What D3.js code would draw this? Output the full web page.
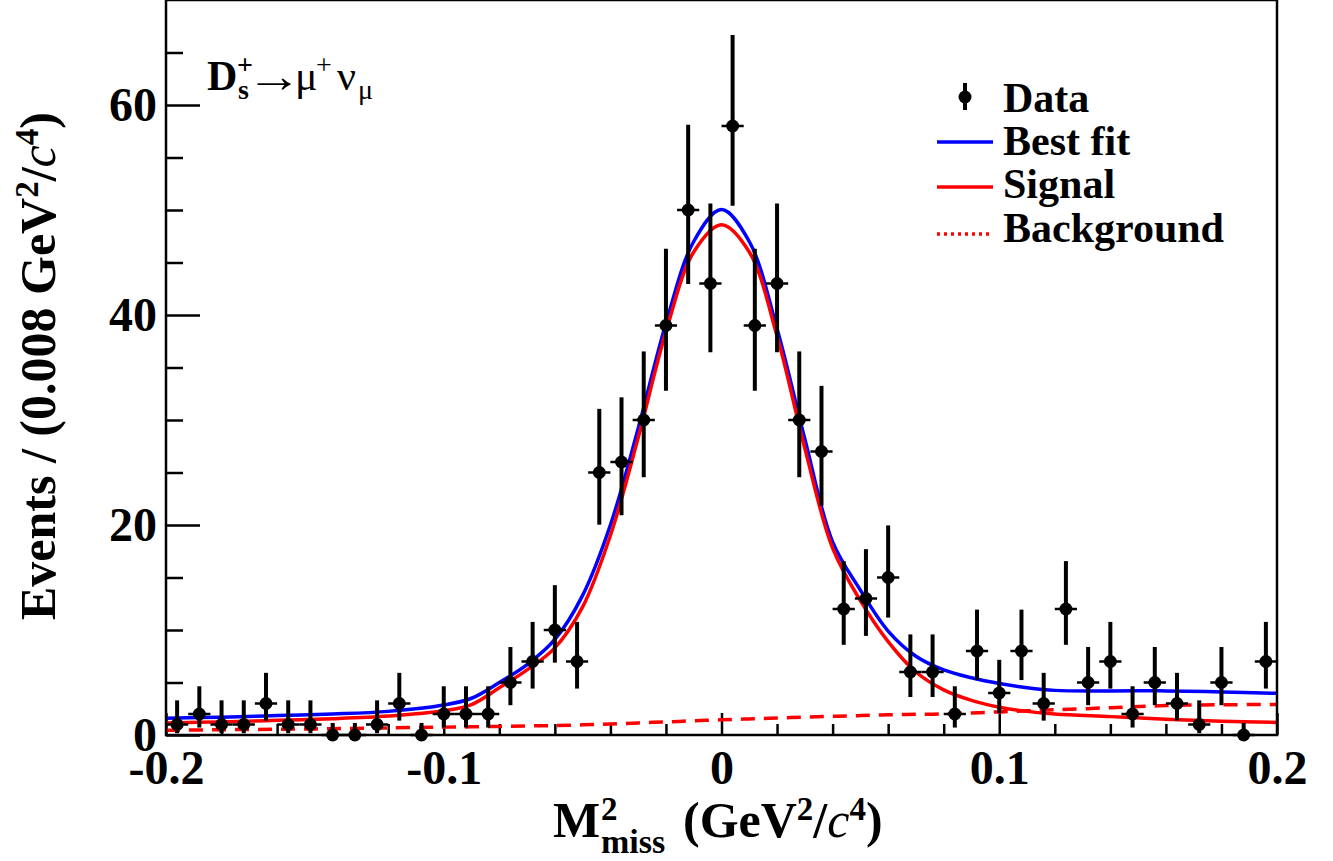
<!DOCTYPE html>
<html>
<head>
<meta charset="utf-8">
<script src="https://cdn.jsdelivr.net/npm/d3@7"></script>
<style>
  html, body { margin: 0; padding: 0; background: #fff; }
  svg { display: block; }
  text { font-family: "Liberation Serif", "Times New Roman", serif; }
</style>
</head>
<body>
<svg id="chart" width="1333" height="861"></svg>
<script>
// ---------------- data ----------------
const histRange = [-0.2, 0.2];
const binWidth = 0.008;
const counts = [1,2,1,1,3,1,1,0,0,1, 3,0,2,2,2,5,7,10,7,25, 26,30,39,50,43,58,39,43,30,27, 12,13,15,6,6,2,8,4,8,3, 12,5,7,2,5,3,1,5,0,7];
const errLow = [0.83,1.29,0.83,0.83,1.63,0.83,0.83,0,0,0.83,
  1.63,0,1.29,1.29,1.29,2.16,2.58,3.11,2.58,4.97,
  5.07,5.45,6.22,7.05,6.54,7.59,6.22,6.54,5.45,5.16,
  3.41,3.56,3.82,2.38,2.38,1.29,2.77,1.91,2.77,1.63,
  3.41,2.16,2.58,1.29,2.16,1.63,0.83,2.16,0,2.58];
const errHigh = [2.30,2.64,2.30,2.30,2.92,2.30,2.30,1.15,1.15,2.30,
  2.92,1.15,2.64,2.64,2.64,3.38,3.77,4.27,3.77,6.06,
  6.16,6.53,7.30,8.12,7.61,8.66,7.30,7.61,6.53,6.25,
  4.56,4.70,4.96,3.58,3.58,2.64,3.94,3.16,3.94,2.92,
  4.56,3.38,3.77,2.64,3.38,2.92,2.30,3.38,1.15,3.77];

const fitX = [-0.2,-0.18,-0.16,-0.14,-0.12,-0.10,-0.09,-0.08,-0.07,-0.06,-0.05,-0.04,-0.03,-0.02,-0.01,0,
  0.01,0.02,0.03,0.04,0.05,0.06,0.07,0.08,0.09,0.10,0.11,0.12,0.14,0.16,0.18,0.20];
const bestFit = [1.6,1.7,1.85,2.0,2.25,2.85,3.5,5.0,6.7,9.1,13.3,20.0,29.2,39.2,47.0,50.05,
  47.0,38.7,28.2,18.4,13.8,9.9,7.5,6.2,5.45,4.9,4.5,4.25,4.2,4.2,4.1,3.97];
const signal = [1.15,1.25,1.4,1.55,1.8,2.3,2.9,4.5,6.2,8.3,12.2,19.0,28.3,38.4,46.0,48.6,
  46.0,38.0,27.3,17.8,12.8,8.9,6.0,4.3,3.3,2.65,2.25,2.0,1.75,1.5,1.3,1.2];
const background = [0.45,0.5,0.55,0.6,0.68,0.75,0.78,0.82,0.86,0.9,0.97,1.05,1.15,1.25,1.35,1.45,
  1.53,1.62,1.7,1.78,1.85,1.92,1.97,2.0,2.1,2.2,2.3,2.4,2.6,2.8,2.88,2.9];

const xMajorTicks = [-0.2,-0.1,0,0.1,0.2];
const xMinorTicks = [-0.18,-0.16,-0.14,-0.12,-0.08,-0.06,-0.04,-0.02,0.02,0.04,0.06,0.08,0.12,0.14,0.16,0.18];
const xTickLabels = ["-0.2","-0.1","0","0.1","0.2"];
const yMajorTicks = [0,20,40,60];
const yMinorTicks = [5,10,15,25,30,35,45,50,55,65];
const yTickLabels = ["0","20","40","60"];
const legendLabels = ["Data","Best fit","Signal","Background"];

// ---------------- drawing ----------------
const svg = d3.select("#chart");
svg.append("rect").attr("width",1333).attr("height",861).attr("fill","#fff");

const x = d3.scaleLinear().domain([-0.2,0.2]).range([166,1277]);
const y = d3.scaleLinear().domain([0,70]).range([735,0]);

const FONT = '"Liberation Serif", "Times New Roman", serif';

// axes
const gx = svg.append("g").attr("transform","translate(0,735)");
gx.call(d3.axisBottom(x).tickValues(xMajorTicks).tickSizeInner(-22).tickSizeOuter(0).tickPadding(15)
  .tickFormat((d,i)=>xTickLabels[i]));
const gxm = svg.append("g").attr("transform","translate(0,735)");
gxm.call(d3.axisBottom(x).tickValues(xMinorTicks).tickSizeInner(-11).tickSizeOuter(0).tickFormat(""));
const gy = svg.append("g").attr("transform","translate(166,0)");
gy.call(d3.axisLeft(y).tickValues(yMajorTicks).tickSizeInner(-34).tickSizeOuter(0).tickPadding(9)
  .tickFormat((d,i)=>yTickLabels[i]));
const gym = svg.append("g").attr("transform","translate(166,0)");
gym.call(d3.axisLeft(y).tickValues(yMinorTicks).tickSizeInner(-17).tickSizeOuter(0).tickFormat(""));
[gx,gxm,gy,gym].forEach(g=>{
  g.select(".domain").remove();
  g.selectAll(".tick line").attr("stroke","#000").attr("stroke-width",2.5);
  g.selectAll(".tick text").attr("font-family",FONT).attr("font-weight","bold")
    .attr("font-size",48).attr("fill","#000");
});

// clip
svg.append("clipPath").attr("id","clip").append("rect")
  .attr("x",166).attr("y",0).attr("width",1111).attr("height",735);

const plot = svg.append("g").attr("clip-path","url(#clip)");

const line = d3.line().x((d,i)=>x(fitX[i])).y(d=>y(d)).curve(d3.curveCatmullRom.alpha(0.5));
plot.append("path").attr("d",line(background)).attr("fill","none").attr("stroke","#ff0000")
  .attr("stroke-width",3.5).attr("stroke-dasharray","14,9");
plot.append("path").attr("d",line(bestFit)).attr("fill","none").attr("stroke","#0000ff").attr("stroke-width",3.5);
plot.append("path").attr("d",line(signal)).attr("fill","none").attr("stroke","#ff0000").attr("stroke-width",3.5);

// data points
const bins = counts.map((c,i)=>({
  xc: histRange[0] + binWidth*(i+0.5), n: c, lo: errLow[i], hi: errHigh[i]
}));
const pts = svg.append("g");
pts.selectAll("line.v").data(bins).join("line").attr("class","v")
  .attr("x1",d=>x(d.xc)).attr("x2",d=>x(d.xc))
  .attr("y1",d=>y(d.n - d.lo)).attr("y2",d=>y(d.n + d.hi))
  .attr("stroke","#000").attr("stroke-width",4);
pts.selectAll("line.h").data(bins).join("line").attr("class","h")
  .attr("x1",d=>x(d.xc - binWidth/2)).attr("x2",d=>x(d.xc + binWidth/2))
  .attr("y1",d=>y(d.n)).attr("y2",d=>y(d.n))
  .attr("stroke","#000").attr("stroke-width",2.5);
pts.selectAll("circle").data(bins).join("circle")
  .attr("cx",d=>x(d.xc)).attr("cy",d=>y(d.n)).attr("r",6.5).attr("fill","#000");

// frame
svg.append("rect").attr("x",166).attr("y",0).attr("width",1111).attr("height",735)
  .attr("fill","none").attr("stroke","#000").attr("stroke-width",2.5);

// x title
const xt = svg.append("g").attr("font-family",FONT).attr("font-weight","bold").attr("fill","#000");
xt.append("text").attr("x",553).attr("y",837).attr("font-size",50).text("M");
xt.append("text").attr("x",601).attr("y",820).attr("font-size",33).text("2");
xt.append("text").attr("x",601).attr("y",853).attr("font-size",34).text("miss");
const xt2 = xt.append("text").attr("x",683).attr("y",837).attr("font-size",50);
xt2.append("tspan").text("(GeV");
xt2.append("tspan").attr("font-size",33).attr("dy",-17).text("2");
xt2.append("tspan").attr("dy",17).text("/");
xt2.append("tspan").attr("font-style","italic").attr("font-weight","normal").text("c");
xt2.append("tspan").attr("font-size",33).attr("dy",-17).text("4");
xt2.append("tspan").attr("dy",17).text(")");

// y title
const yt = svg.append("text").attr("transform","translate(55,366) rotate(-90)")
  .attr("text-anchor","middle").attr("font-family",FONT).attr("font-weight","bold")
  .attr("font-size",50).attr("fill","#000");
yt.append("tspan").text("Events / (0.008 GeV");
yt.append("tspan").attr("font-size",33).attr("dy",-17).text("2");
yt.append("tspan").attr("dy",17).text("/");
yt.append("tspan").attr("font-style","italic").attr("font-weight","normal").text("c");
yt.append("tspan").attr("font-size",33).attr("dy",-17).text("4");
yt.append("tspan").attr("dy",17).text(")");

// annotation
const an = svg.append("g").attr("font-family",FONT).attr("fill","#000");
an.append("text").attr("x",207).attr("y",90).attr("font-size",42).attr("font-weight","bold").text("D");
an.append("text").attr("x",238).attr("y",99).attr("font-size",28).attr("font-weight","bold").text("s");
an.append("text").attr("x",237).attr("y",74).attr("font-size",28).attr("font-weight","bold").text("+");
an.append("text").attr("transform","translate(246,92) scale(1.33,1.1)").attr("font-size",42).text("\u2192");
an.append("text").attr("x",295).attr("y",90).attr("font-size",42).text("\u03bc");
an.append("text").attr("x",316).attr("y",74).attr("font-size",28).text("+");
an.append("text").attr("x",337).attr("y",90).attr("font-size",42).text("\u03bd");
an.append("text").attr("x",358).attr("y",99).attr("font-size",28).text("\u03bc");

// legend
const lg = svg.append("g");
const legTextY = [112,155,198,242];
lg.selectAll("text").data(legendLabels).join("text")
  .attr("x",1003).attr("y",(d,i)=>legTextY[i])
  .attr("font-family",FONT).attr("font-weight","bold").attr("font-size",42).attr("fill","#000")
  .text(d=>d);
lg.append("line").attr("x1",965).attr("x2",965).attr("y1",83).attr("y2",110).attr("stroke","#000").attr("stroke-width",4);
lg.append("circle").attr("cx",965).attr("cy",97).attr("r",6.5).attr("fill","#000");
lg.append("line").attr("x1",937).attr("x2",993).attr("y1",142).attr("y2",142).attr("stroke","#0000ff").attr("stroke-width",3.5);
lg.append("line").attr("x1",937).attr("x2",993).attr("y1",187).attr("y2",187).attr("stroke","#ff0000").attr("stroke-width",3.5);
lg.append("line").attr("x1",937).attr("x2",993).attr("y1",234).attr("y2",234).attr("stroke","#ff0000").attr("stroke-width",3.5).attr("stroke-dasharray","3,4");
</script>
</body>
</html>
